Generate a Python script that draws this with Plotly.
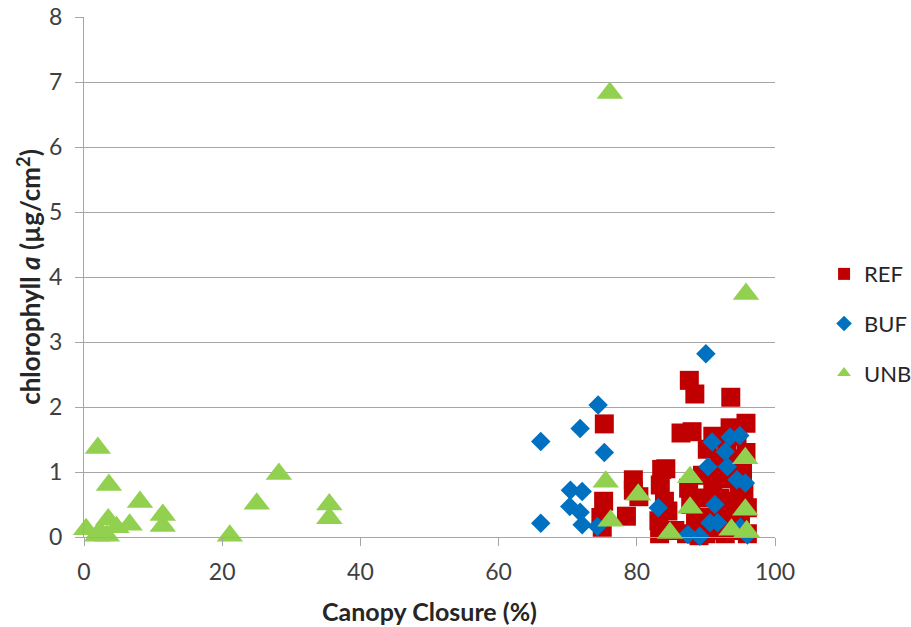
import plotly.graph_objects as go

# REF (red squares)
ref_x = [75.3, 75.2, 74.8, 75.0, 78.5, 79.5, 79.5, 80.3, 83.3, 83.2, 83.4, 83.6, 84.2, 84.0, 84.5, 85.5,
         86.4, 87.6, 88.4, 88.0, 87.5, 87.8, 87.2, 88.5, 89.0, 89.5, 89.8, 90.2, 90.5, 91.0, 91.0, 91.5,
         92.0, 92.0, 92.5, 93.0, 93.0, 93.6, 93.5, 93.8, 94.0, 94.2, 94.5, 95.0, 95.3, 95.5, 95.8, 95.8,
         96.0, 96.0, 92.8, 90.0, 94.8, 91.5]
ref_y = [1.74, 0.55, 0.30, 0.15, 0.32, 0.88, 0.72, 0.62, 0.05, 0.25, 0.80, 1.04, 1.05, 0.55, 0.40, 0.10,
         1.60, 2.41, 2.20, 1.62, 0.75, 0.50, 0.05, 0.25, 0.02, 0.95, 0.60, 1.35, 0.30, 1.55, 0.85, 0.10,
         1.20, 0.60, 0.35, 1.45, 0.90, 2.15, 1.68, 0.10, 1.20, 0.55, 1.55, 0.30, 1.00, 0.70, 1.75, 1.30,
         0.45, 0.05, 0.05, 0.05, 0.80, 1.00]

# BUF (blue diamonds)
buf_x = [66.1, 71.8, 74.4, 75.3, 66.1, 70.4, 72.1, 70.3, 71.8, 72.1, 74.3, 83.1, 87.4, 89.1, 90.0,
         90.9, 93.5, 94.9, 92.8, 90.3, 93.1, 94.5, 95.7, 91.3, 90.6, 91.7, 95.0, 96.0]
buf_y = [1.47, 1.67, 2.03, 1.30, 0.21, 0.72, 0.70, 0.47, 0.38, 0.19, 0.16, 0.45, 0.04, 0.01, 2.82,
         1.46, 1.54, 1.56, 1.31, 1.08, 1.08, 0.88, 0.83, 0.50, 0.22, 0.22, 0.15, 0.03]

# UNB (green triangles)
unb_x = [76.1, 95.8, 2.0, 3.6, 28.2, 25.0, 8.1, 35.5, 35.5, 11.4, 11.4, 21.1, 0.3, 1.9, 2.3, 3.5,
         3.3, 4.7, 6.6, 7.0, 75.5, 76.2, 80.2, 84.8, 87.7, 87.7, 95.7, 95.7, 93.7, 95.9]
unb_y = [6.83, 3.74, 1.37, 0.80, 0.97, 0.51, 0.54, 0.50, 0.29, 0.34, 0.17, 0.02, 0.12, 0.02, 0.09, 0.27,
         0.02, 0.15, 0.19, -0.01, 0.85, 0.25, 0.65, 0.06, 0.92, 0.45, 1.21, 0.42, 0.11, 0.09]

x_ticks = [0, 20, 40, 60, 80, 100]
y_ticks = [0, 1, 2, 3, 4, 5, 6, 7, 8]

FONT = "Lato, 'Open Sans', sans-serif"

fig = go.Figure()
fig.add_trace(go.Scatter(x=ref_x, y=ref_y, mode="markers", name="REF", legendgroup="a",
                         cliponaxis=False,
                         marker=dict(symbol="square", size=19, color="#C00000")))
fig.add_trace(go.Scatter(x=buf_x, y=buf_y, mode="markers", name="BUF", legendgroup="b",
                         cliponaxis=False,
                         marker=dict(symbol="diamond", size=15, color="#0070C0")))
fig.add_trace(go.Scatter(x=unb_x, y=unb_y, mode="markers", name="UNB", legendgroup="c",
                         cliponaxis=False,
                         marker=dict(symbol="triangle-up", size=23, color="#92D050")))

fig.update_layout(
    width=911, height=627,
    margin=dict(l=84, r=136, t=17, b=90, autoexpand=False),
    paper_bgcolor="white", plot_bgcolor="white",
    font=dict(family=FONT, size=22, color="#404040"),
    legend=dict(x=1.071, y=0.546, xanchor="left", yanchor="top",
                font=dict(family=FONT, size=22, color="#262626"),
                tracegroupgap=18, itemsizing="constant", bgcolor="rgba(0,0,0,0)"),
    xaxis=dict(range=[0, 100], tickvals=x_ticks, showgrid=False, zeroline=False,
               automargin=False, ticklabeloverflow="allow",
               showline=True, linecolor="#a6a6a6", linewidth=1,
               ticks="outside", ticklen=8, tickcolor="#a6a6a6", ticklabelstandoff=6,
               tickfont=dict(family=FONT, size=23, color="#404040"),
               title=dict(text="<b>Canopy Closure (%)</b>", standoff=19,
                          font=dict(family=FONT, size=25, color="#262626"))),
    yaxis=dict(range=[0, 8], tickvals=y_ticks, showgrid=True, gridcolor="#a6a6a6", gridwidth=1,
               automargin=False, ticklabeloverflow="allow",
               zeroline=False, showline=True, linecolor="#a6a6a6", linewidth=1,
               ticks="outside", ticklen=8, tickcolor="#a6a6a6", ticklabelstandoff=8,
               tickfont=dict(family=FONT, size=23, color="#404040"),
               title=dict(text="<b>chlorophyll <i>a</i> (µg/cm<sup>2</sup>)</b>", standoff=0,
                          font=dict(family=FONT, size=26, color="#262626"))),
)

fig.write_html("out.html", config={"displayModeBar": False},
               post_script="document.body.style.margin='0';")
